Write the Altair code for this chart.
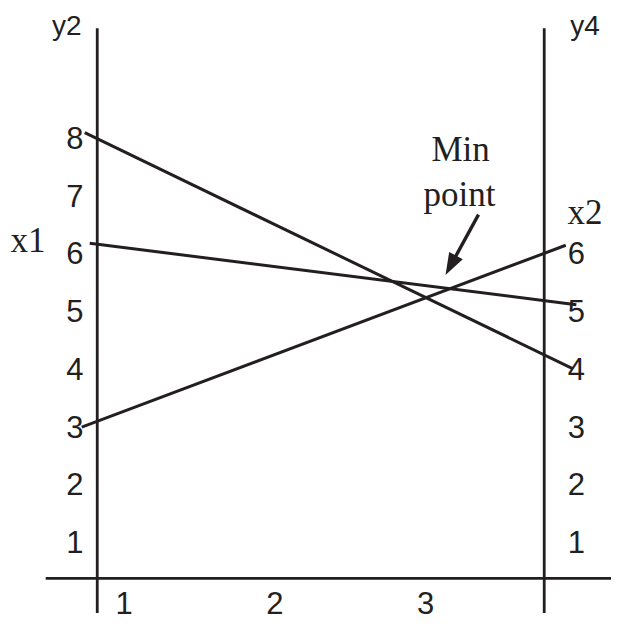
import altair as alt
import pandas as pd

# ---- data (in chart units: x = bottom scale 1..3, y = vertical scale 1..8) ----
left_ticks = [1, 2, 3, 4, 5, 6, 7, 8]
right_ticks = [1, 2, 3, 4, 5, 6]
bottom_ticks = [1, 2, 3]

# three crossing lines: start near left label, end near right label
line_names = ["a", "b", "c"]
line_x_start = [0.739, 0.772, 0.719]
line_y_start = [8.09, 6.175, 2.99]
line_x_end = [3.979, 4.0, 3.93]
line_y_end = [4.0, 5.11, 6.14]

# axes frame
axis_left_x = 0.822
axis_right_x = 3.787
axis_top_y = 9.9
axis_base_y = 0.37

# annotation texts
titles = ["y2", "y4"]
side_labels = ["x1", "x2"]
note_lines = ["Min", "point"]

XD = [0.23, 4.23]
YD = [-0.23, 10.25]
INK = "#231f20"

xs = alt.Scale(domain=XD, nice=False, zero=False)
ys = alt.Scale(domain=YD, nice=False, zero=False)

def X(f="x"):
    return alt.X(f"{f}:Q", scale=xs, axis=None)

def Y(f="y"):
    return alt.Y(f"{f}:Q", scale=ys, axis=None)

# vertical axis lines + horizontal base line
frame = pd.DataFrame({
    "x": [axis_left_x, axis_right_x, 0.48],
    "x2": [axis_left_x, axis_right_x, XD[1]],
    "y": [axis_top_y, axis_top_y, axis_base_y],
    "y2": [YD[0], YD[0], axis_base_y],
})
frame_marks = alt.Chart(frame).mark_rule(color=INK, strokeWidth=2.8).encode(
    x=X(), x2="x2:Q", y=Y(), y2="y2:Q"
)

lines = pd.DataFrame({
    "name": line_names,
    "x": line_x_start, "y": line_y_start,
    "x2": line_x_end, "y2": line_y_end,
})
line_marks = alt.Chart(lines).mark_rule(color=INK, strokeWidth=3).encode(
    x=X(), x2="x2:Q", y=Y(), y2="y2:Q"
)

# tick labels
lt = pd.DataFrame({"y": left_ticks, "t": [str(v) for v in left_ticks]})
lt["x"] = 0.673
left_lab = alt.Chart(lt).mark_text(
    font="Liberation Sans", fontSize=31, color=INK, baseline="middle", dy=2
).encode(x=X(), y=Y(), text="t:N")

rt = pd.DataFrame({"y": right_ticks, "t": [str(v) for v in right_ticks]})
rt["x"] = 4.0
right_lab = alt.Chart(rt).mark_text(
    font="Liberation Sans", fontSize=31, color=INK, baseline="middle", dy=2
).encode(x=X(), y=Y(), text="t:N")

bt = pd.DataFrame({"x": bottom_ticks, "t": [str(v) for v in bottom_ticks]})
bt["y"] = 0.0
bottom_lab = alt.Chart(bt).mark_text(
    font="Liberation Sans", fontSize=31, color=INK, baseline="middle", dy=5
).encode(x=X(), y=Y(), text="t:N")

# y2 / y4 titles
tt = pd.DataFrame({"t": titles, "x": [0.62, 4.058], "y": [9.78, 9.78]})
title_lab = alt.Chart(tt).mark_text(
    font="Liberation Sans", fontSize=28, color=INK, baseline="alphabetic"
).encode(x=X(), y=Y(), text="t:N")

# x1 / x2 serif labels
st = pd.DataFrame({"t": side_labels, "x": [0.362, 4.058], "y": [6.02, 6.517]})
side_lab = alt.Chart(st).mark_text(
    font="Liberation Serif", fontSize=35, color=INK, baseline="alphabetic"
).encode(x=X(), y=Y(), text="t:N")

# "Min point" note
nt = pd.DataFrame({"t": note_lines, "x": [3.232, 3.225], "y": [7.596, 6.825]})
note_lab = alt.Chart(nt).mark_text(
    font="Liberation Serif", fontSize=35, color=INK, baseline="alphabetic"
).encode(x=X(), y=Y(), text="t:N")

# arrow: shaft + head
arrow = pd.DataFrame({"x": [3.351], "y": [6.671], "x2": [3.167], "y2": [5.793]})
shaft = alt.Chart(arrow).mark_rule(color=INK, strokeWidth=3.4).encode(
    x=X(), x2="x2:Q", y=Y(), y2="y2:Q"
)
head = alt.Chart(arrow).mark_point(
    shape="M0,-1L-0.7,1L0.7,1Z", filled=True, opacity=1, color=INK,
    size=484, angle=208.4
).encode(x=X("x2"), y=Y("y2"))

chart = alt.layer(
    frame_marks, line_marks, left_lab, right_lab, bottom_lab,
    title_lab, side_lab, note_lab, shaft, head
).properties(
    width=605, height=612,
    autosize=alt.AutoSizeParams(type="fit", contains="padding"),
    padding=0,
    background="white",
).configure_view(stroke=None, strokeWidth=0)

chart.save("out.html", embed_options={"renderer": "svg", "actions": False})
